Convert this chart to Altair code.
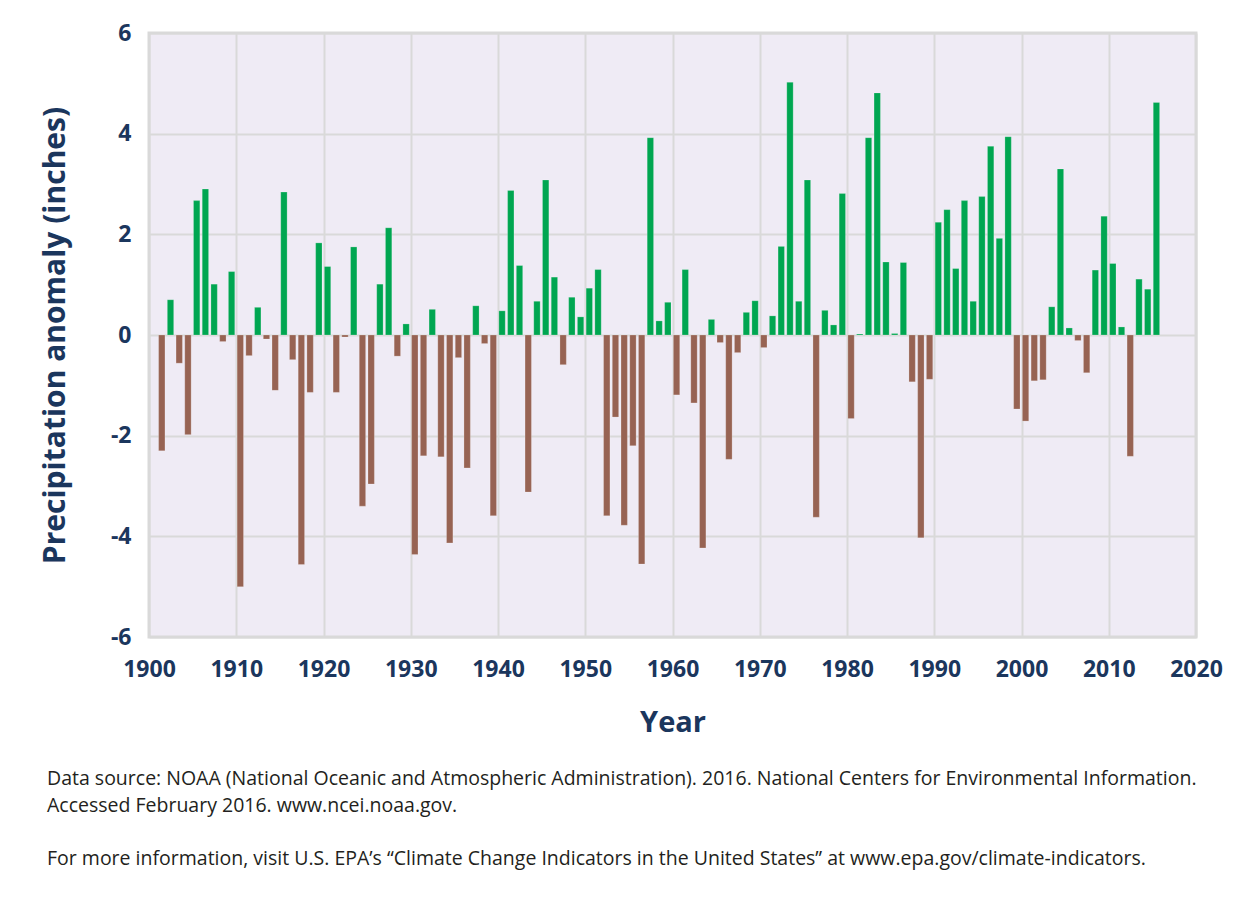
import altair as alt
import pandas as pd

years = list(range(1901, 2016))
anomaly = [
    # 1901-1940
    -2.30, 0.70, -0.56, -1.98, 2.67, 2.90, 1.01, -0.13, 1.26, -5.00,
    -0.41, 0.55, -0.08, -1.10, 2.84, -0.49, -4.56, -1.14, 1.83, 1.36,
    -1.14, -0.04, 1.75, -3.40, -2.96, 1.01, 2.13, -0.42, 0.22, -4.36,
    -2.40, 0.51, -2.42, -4.13, -0.45, -2.64, 0.58, -0.17, -3.59, 0.48,
    # 1941-1979
    2.87, 1.38, -3.12, 0.67, 3.08, 1.15, -0.59, 0.75, 0.36, 0.93,
    1.30, -3.59, -1.63, -3.78, -2.20, -4.55, 3.92, 0.28, 0.65, -1.19,
    1.30, -1.35, -4.23, 0.31, -0.15, -2.47, -0.35, 0.45, 0.68, -0.25,
    0.38, 1.76, 5.02, 0.67, 3.08, -3.62, 0.49, 0.20, 2.81,
    # 1980-2015
    -1.66, 0.02, 3.92, 4.81, 1.45, 0.03, 1.44, -0.93, -4.03, -0.88,
    2.24, 2.49, 1.32, 2.67, 0.67, 2.75, 3.75, 1.92, 3.94, -1.47,
    -1.71, -0.91, -0.89, 0.56, 3.30, 0.14, -0.11, -0.75, 1.29, 2.36,
    1.42, 0.16, -2.41, 1.11, 0.91, 4.62,
]
x_ticks = list(range(1900, 2021, 10))
y_ticks = [-6, -4, -2, 0, 2, 4, 6]
notes = [
    "Data source: NOAA (National Oceanic and Atmospheric Administration). 2016. National Centers for Environmental Information.",
    "Accessed February 2016. www.ncei.noaa.gov.",
    "For more information, visit U.S. EPA\u2019s \u201cClimate Change Indicators in the United States\u201d at www.epa.gov/climate-indicators.",
]
note_lines = [0, 1, 3]

df = pd.DataFrame({"year": years, "anomaly": anomaly})

NAVY = "#1b365d"
FONT = "Open Sans"

bars = alt.Chart(df).transform_calculate(
    x0="datum.year + 0.1",
    x1="datum.year + 0.83",
    sign="datum.anomaly >= 0 ? 'pos' : 'neg'",
).mark_bar(strokeWidth=0.6, stroke="#ffffff", strokeOpacity=0.35).encode(
    x=alt.X(
        "x0:Q",
        scale=alt.Scale(domain=[1900, 2020], nice=False, zero=False),
        axis=alt.Axis(
            values=x_ticks, format="d", title="Year", labelFontSize=23,
            labelFontWeight="bold", labelColor=NAVY, labelPadding=21,
            labelFlush=False,
            titleFontSize=29, titleFontWeight="bold", titleColor=NAVY,
            titlePadding=27, ticks=False, domain=False,
            grid=True, gridColor="#d9d9d9", gridWidth=2,
            labelFont=FONT, titleFont=FONT,
        ),
    ),
    x2="x1:Q",
    y=alt.Y(
        "anomaly:Q",
        scale=alt.Scale(domain=[-6, 6], nice=False),
        axis=alt.Axis(
            values=y_ticks, title="Precipitation anomaly (inches)",
            labelExpr="datum.value + ''", labelFlush=False,
            labelFontSize=23, labelFontWeight="bold", labelColor=NAVY,
            labelPadding=18, titleFontSize=30, titleFontWeight="bold",
            titleColor=NAVY, titlePadding=40, ticks=False, domain=False,
            grid=True, gridColor="#d9d9d9", gridWidth=2,
            labelFont=FONT, titleFont=FONT,
        ),
    ),
    y2=alt.datum(0),
    color=alt.Color(
        "sign:N",
        scale=alt.Scale(domain=["pos", "neg"], range=["#00a651", "#976353"]),
        legend=None,
    ),
)

notes_df = pd.DataFrame({"text": notes, "line": note_lines})
note_marks = alt.Chart(notes_df).mark_text(
    align="left", baseline="middle", font=FONT, fontSize=19.5, color="#231f20"
).encode(
    text="text:N",
    x=alt.value(-102),
    y=alt.Y("line:Q", scale=alt.Scale(domain=[0, 3], range=[746, 826]), axis=None),
)

chart = alt.layer(bars, note_marks).resolve_scale(y="independent").properties(
    width=1047,
    height=604,
    padding={"left": 141, "top": 25, "right": 51, "bottom": 252},
    autosize=alt.AutoSizeParams(type="none"),
    background="#ffffff",
).configure_view(
    fill="#efebf5", stroke="#d9d9d9", strokeWidth=3
)

chart.save("out.html", embed_options={"renderer": "svg", "actions": False})
